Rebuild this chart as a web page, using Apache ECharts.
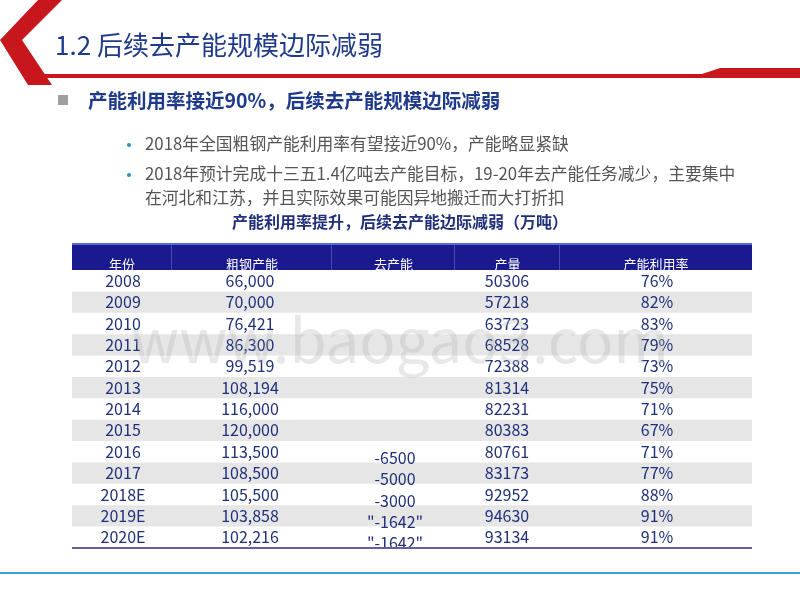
<!DOCTYPE html><html><head><meta charset="utf-8"><script src="https://cdn.jsdelivr.net/npm/echarts@6/dist/echarts.min.js"></script>
<style>html,body{margin:0;background:#fff}#c{width:800px;height:600px}</style></head><body><div id="c"></div><script>
const years=['2008','2009','2010','2011','2012','2013','2014','2015','2016','2017','2018E','2019E','2020E'];
const capacity=['66,000','70,000','76,421','86,300','99,519','108,194','116,000','120,000','113,500','108,500','105,500','103,858','102,216'];
const cutRows=[8,9,10,11,12];
const cutVals=['-6500','-5000','-3000','"-1642"','"-1642"'];
const output=['50306','57218','63723','68528','72388','81314','82231','80383','80761','83173','92952','94630','93134'];
const rate=['76%','82%','83%','79%','73%','75%','71%','67%','71%','77%','88%','91%','91%'];
const headers=['年份','粗钢产能','去产能','产量','产能利用率'];
const F='"Noto Sans CJK SC","Noto Sans",sans-serif';
const cols=[[0,100],[100,260],[260,383],[383,488],[488,680]];
const textX=[51,178,323,435,585];
const chart=echarts.init(document.getElementById('c'));
const rows=years.map((y,i)=>[i,y,capacity[i],output[i],rate[i]]);
const blue='#1f2f7a';
chart.setOption({
 animation:false,
 grid:{left:72,right:48,top:270,bottom:52},
 xAxis:{type:'value',min:0,max:680,show:false},
 yAxis:{type:'category',data:years,inverse:true,show:false},
 series:[{type:'custom',data:rows,renderItem:(p,api)=>{
   const i=api.value(0);const c=api.coord([0,i]);const c2=api.coord([680,i]);
   const h=api.size([0,1])[1];
   const ch=[];
   if(i%2===1) ch.push({type:'rect',shape:{x:c[0],y:c[1]-h/2,width:c2[0]-c[0],height:h},style:{fill:'#e6e6e6'}});
   const vals=[years[i],capacity[i],'',output[i],rate[i]];
   vals.forEach((v,k)=>{ if(!v) return; const p2=api.coord([textX[k],i]);
     ch.push({type:'text',style:{text:v,x:p2[0],y:p2[1],align:'center',verticalAlign:'middle',fill:blue,font:'16px '+F}});});
   return {type:'group',children:ch};
 },z:2},
 {type:'custom',data:cutVals.map((v,k)=>[cutRows[k],v]),renderItem:(p,api)=>{
   const i=api.value(0);const p2=api.coord([textX[2],i]);
   return {type:'text',style:{text:cutVals[p.dataIndex],x:p2[0],y:p2[1]+6,align:'center',verticalAlign:'middle',fill:blue,font:'16px '+F}};
 },z:3}],
 graphic:[
  {type:'polygon',shape:{points:[[38,0],[62,0],[22,40],[52,85],[28,85],[0,40]]},style:{fill:'#c8161d'}},
  {type:'rect',shape:{x:30,y:74,width:770,height:4},style:{fill:'#c8161d'}},
  {type:'polygon',shape:{points:[[690,78],[720,68],[800,68],[800,78]]},style:{fill:'#c8161d'}},
  {type:'text',style:{text:'1.2 后续去产能规模边际减弱',x:55,y:45,verticalAlign:'middle',fill:'#1f3a8a',font:'26px '+F}},
  {type:'rect',shape:{x:58,y:95,width:10,height:10},style:{fill:'#9e9e9e'}},
  {type:'text',style:{text:'产能利用率接近90%，后续去产能规模边际减弱',x:88,y:101,verticalAlign:'middle',fill:'#1f3a8a',font:'bold 19.5px '+F}},
  {type:'circle',shape:{cx:129,cy:145,r:2},style:{fill:'#2a8fd0'}},
  {type:'circle',shape:{cx:129,cy:175,r:2},style:{fill:'#2a8fd0'}},
  {type:'text',style:{text:'2018年全国粗钢产能利用率有望接近90%，产能略显紧缺',x:145,y:144,verticalAlign:'middle',fill:'#555',font:'16.8px '+F}},
  {type:'text',style:{text:'2018年预计完成十三五1.4亿吨去产能目标，19-20年去产能任务减少，主要集中',x:145,y:174,verticalAlign:'middle',fill:'#555',font:'16.8px '+F}},
  {type:'text',style:{text:'在河北和江苏，并且实际效果可能因异地搬迁而大打折扣',x:145,y:198,verticalAlign:'middle',fill:'#555',font:'16.8px '+F}},
  {type:'text',style:{text:'产能利用率提升，后续去产能边际减弱（万吨）',x:400,y:222,align:'center',verticalAlign:'middle',fill:'#1f2f7a',font:'bold 16px '+F}},
  {type:'rect',shape:{x:72,y:243,width:680,height:27},style:{fill:'#1a1a8e'},z:5},
  {type:'rect',shape:{x:72,y:243,width:680,height:2},style:{fill:'#5a6ad0'},z:6},
  ...cols.slice(1).map(c=>({type:'rect',shape:{x:72+c[0]-1,y:245,width:1,height:25},style:{fill:'#4a4ab0'},z:6})),
  ...headers.map((h,k)=>({type:'text',style:{text:h,x:72+(cols[k][0]+cols[k][1])/2,y:264,align:'center',verticalAlign:'middle',fill:'#fff',font:'13px '+F},z:6})),
  {type:'rect',shape:{x:72,y:547,width:680,height:2},style:{fill:'#6a5aa8'},z:5},
  {type:'text',style:{text:'www.baogao3.com',x:400,y:340,align:'center',verticalAlign:'middle',fill:'rgba(180,180,180,0.3)',font:'60px '+F},z:10},
  {type:'rect',shape:{x:0,y:572,width:800,height:2},style:{fill:'#3aa0d8'}}
 ]
});
</script></body></html>
